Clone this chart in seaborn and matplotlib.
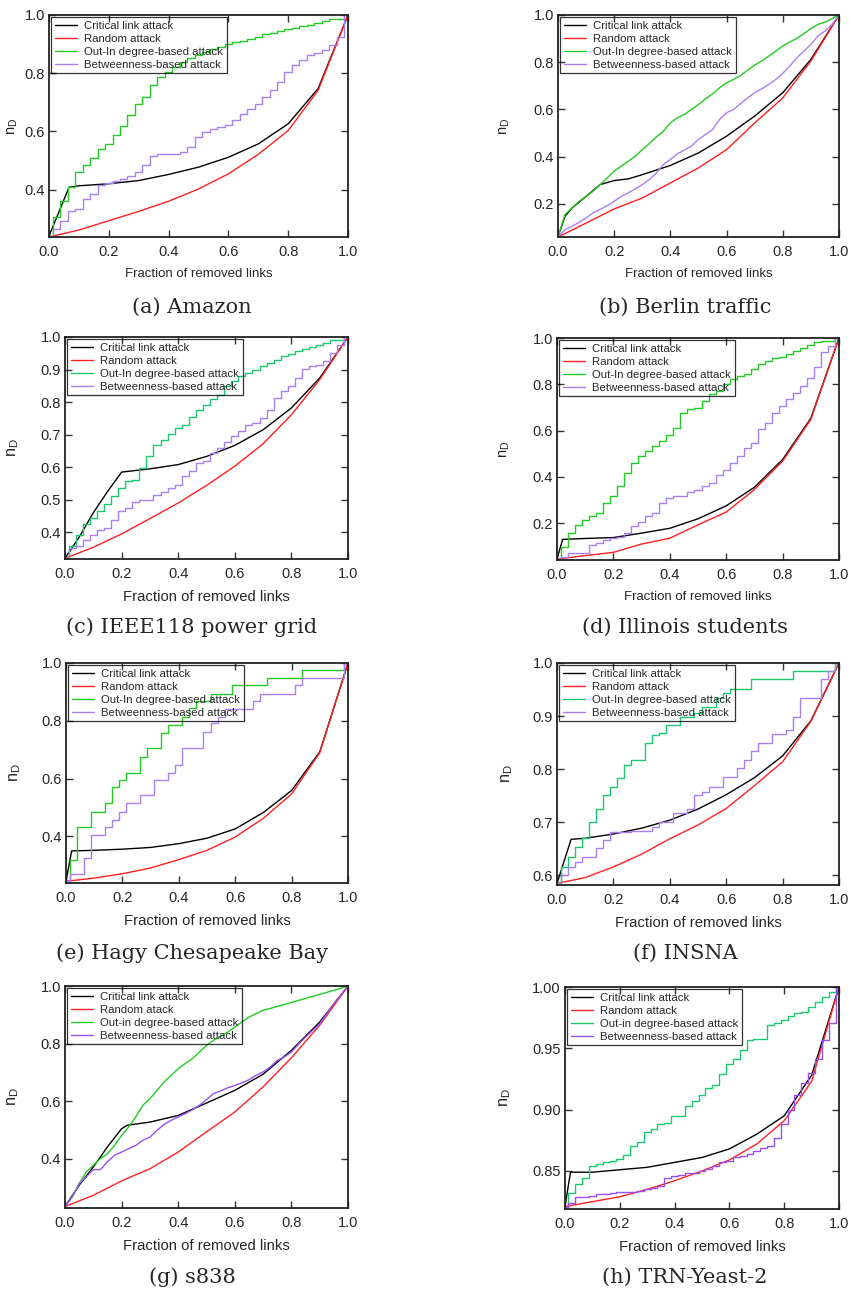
import numpy as np
import matplotlib
matplotlib.use('Agg')
import matplotlib.pyplot as plt
import seaborn as sns

# x grids: critical/random curves are sampled every 0.1, staircases every 0.025
frac_coarse = [0.0, 0.1, 0.2, 0.3, 0.4, 0.5, 0.6, 0.7, 0.8, 0.9, 1.0]
frac_fine = np.linspace(0.0, 1.0, 41)

# (a) Amazon
amazon_crit_x = [0, 0.067, 0.1, 0.2, 0.3, 0.4, 0.5, 0.6, 0.7, 0.8, 0.9, 1.0]
amazon_crit_y = [0.24, 0.408, 0.413, 0.42, 0.431, 0.452, 0.477, 0.511, 0.557, 0.626, 0.747, 1.0]
amazon_rand = [0.237, 0.261, 0.293, 0.325, 0.36, 0.402, 0.454, 0.521, 0.603, 0.741, 1.0]
amazon_outin = [0.24, 0.305, 0.362, 0.41, 0.46, 0.485, 0.51, 0.54, 0.557, 0.586, 0.62, 0.655, 0.695, 0.718,
                0.758, 0.787, 0.805, 0.822, 0.839, 0.851, 0.862, 0.874, 0.882, 0.891, 0.899, 0.906, 0.911,
                0.918, 0.925, 0.933, 0.939, 0.945, 0.951, 0.955, 0.962, 0.967, 0.971, 0.978, 0.987, 0.987, 1.0]
amazon_betw = [0.24, 0.264, 0.293, 0.328, 0.333, 0.368, 0.385, 0.417, 0.422, 0.431, 0.436, 0.448, 0.46, 0.483,
               0.517, 0.521, 0.521, 0.521, 0.529, 0.546, 0.58, 0.598, 0.609, 0.615, 0.621, 0.638, 0.661,
               0.678, 0.695, 0.718, 0.741, 0.77, 0.805, 0.828, 0.845, 0.862, 0.871, 0.879, 0.897, 0.925, 1.0]

# (b) Berlin traffic
berlin_crit_x = [0, 0.025, 0.05, 0.1, 0.15, 0.2, 0.25, 0.3, 0.4, 0.5, 0.6, 0.7, 0.8, 0.9, 1.0]
berlin_crit_y = [0.06, 0.148, 0.183, 0.232, 0.282, 0.299, 0.306, 0.324, 0.363, 0.416, 0.487, 0.572, 0.671, 0.812, 1.0]
berlin_rand = [0.06, 0.119, 0.179, 0.225, 0.289, 0.353, 0.43, 0.543, 0.649, 0.805, 1.0]
berlin_outin = [0.06, 0.155, 0.183, 0.211, 0.232, 0.254, 0.282, 0.31, 0.339, 0.36, 0.381, 0.402, 0.43, 0.456,
                0.484, 0.508, 0.543, 0.565, 0.579, 0.6, 0.621, 0.645, 0.666, 0.692, 0.713, 0.727, 0.744,
                0.767, 0.788, 0.805, 0.826, 0.847, 0.869, 0.886, 0.901, 0.921, 0.943, 0.96, 0.97, 0.984, 1.0]
berlin_betw = [0.06, 0.091, 0.105, 0.122, 0.141, 0.162, 0.176, 0.193, 0.211, 0.232, 0.247, 0.264, 0.282, 0.303,
               0.331, 0.367, 0.388, 0.413, 0.428, 0.445, 0.473, 0.494, 0.515, 0.558, 0.586, 0.6, 0.625,
               0.649, 0.671, 0.688, 0.706, 0.727, 0.753, 0.784, 0.819, 0.847, 0.876, 0.911, 0.932, 0.96, 1.0]

# (c) IEEE118 power grid
ieee_crit_x = [0, 0.05, 0.1, 0.15, 0.2, 0.3, 0.4, 0.5, 0.6, 0.7, 0.8, 0.9, 1.0]
ieee_crit_y = [0.32, 0.385, 0.46, 0.525, 0.585, 0.595, 0.608, 0.633, 0.667, 0.715, 0.782, 0.874, 1.0]
ieee_rand = [0.32, 0.354, 0.395, 0.442, 0.49, 0.544, 0.603, 0.672, 0.761, 0.869, 1.0]
ieee_outin = [0.32, 0.357, 0.393, 0.427, 0.444, 0.465, 0.487, 0.513, 0.536, 0.557, 0.562, 0.598, 0.633, 0.669,
              0.685, 0.703, 0.72, 0.731, 0.754, 0.777, 0.792, 0.81, 0.823, 0.848, 0.864, 0.881, 0.889,
              0.9, 0.91, 0.92, 0.93, 0.941, 0.948, 0.956, 0.963, 0.969, 0.976, 0.982, 0.99, 0.992, 1.0]
ieee_betw = [0.32, 0.352, 0.357, 0.377, 0.393, 0.406, 0.413, 0.439, 0.465, 0.475, 0.492, 0.5, 0.5, 0.516,
             0.523, 0.536, 0.546, 0.572, 0.587, 0.613, 0.62, 0.644, 0.659, 0.676, 0.695, 0.71, 0.731,
             0.736, 0.751, 0.777, 0.813, 0.833, 0.848, 0.874, 0.902, 0.91, 0.915, 0.925, 0.951, 0.976, 1.0]

# (d) Illinois students
illinois_crit_x = [0, 0.02, 0.1, 0.2, 0.3, 0.4, 0.5, 0.6, 0.7, 0.8, 0.9, 1.0]
illinois_crit_y = [0.045, 0.13, 0.134, 0.138, 0.157, 0.178, 0.219, 0.275, 0.355, 0.475, 0.653, 1.0]
illinois_rand = [0.045, 0.06, 0.074, 0.11, 0.135, 0.193, 0.248, 0.345, 0.468, 0.648, 1.0]
illinois_outin = [0.045, 0.099, 0.157, 0.193, 0.214, 0.229, 0.246, 0.287, 0.316, 0.359, 0.417, 0.46, 0.489,
                  0.511, 0.533, 0.554, 0.583, 0.612, 0.677, 0.692, 0.699, 0.728, 0.757, 0.771, 0.8, 0.822,
                  0.834, 0.844, 0.865, 0.887, 0.902, 0.912, 0.916, 0.931, 0.945, 0.955, 0.97, 0.981, 0.986,
                  0.986, 1.0]
illinois_betw = [0.045, 0.055, 0.07, 0.07, 0.073, 0.106, 0.116, 0.128, 0.135, 0.142, 0.157, 0.186, 0.207,
                 0.229, 0.246, 0.287, 0.309, 0.316, 0.316, 0.333, 0.345, 0.359, 0.374, 0.41, 0.431, 0.46,
                 0.492, 0.526, 0.547, 0.605, 0.634, 0.677, 0.706, 0.735, 0.764, 0.793, 0.829, 0.873, 0.938,
                 0.967, 1.0]

# (e) Hagy Chesapeake Bay
hagy_crit_x = [0, 0.02, 0.1, 0.2, 0.3, 0.4, 0.5, 0.6, 0.7, 0.8, 0.9, 1.0]
hagy_crit_y = [0.245, 0.35, 0.352, 0.356, 0.362, 0.375, 0.394, 0.426, 0.483, 0.559, 0.693, 1.0]
hagy_rand = [0.245, 0.256, 0.271, 0.291, 0.32, 0.352, 0.398, 0.463, 0.547, 0.69, 1.0]
hagy_outin = [0.245, 0.32, 0.432, 0.432, 0.486, 0.486, 0.515, 0.572, 0.595, 0.621, 0.621, 0.676, 0.705, 0.705,
              0.759, 0.787, 0.787, 0.814, 0.843, 0.868, 0.868, 0.894, 0.894, 0.894, 0.923, 0.923, 0.923,
              0.923, 0.923, 0.949, 0.949, 0.949, 0.949, 0.949, 0.977, 0.977, 0.977, 0.977, 0.977, 0.977, 1.0]
hagy_betw = [0.245, 0.27, 0.27, 0.325, 0.406, 0.406, 0.434, 0.457, 0.486, 0.515, 0.515, 0.544, 0.544, 0.595,
             0.595, 0.621, 0.647, 0.705, 0.705, 0.705, 0.76, 0.791, 0.814, 0.84, 0.84, 0.84, 0.84, 0.868,
             0.894, 0.894, 0.894, 0.894, 0.894, 0.923, 0.949, 0.949, 0.949, 0.949, 0.949, 0.949, 1.0]

# (f) INSNA
insna_crit_x = [0, 0.05, 0.1, 0.2, 0.3, 0.4, 0.5, 0.6, 0.7, 0.8, 0.9, 1.0]
insna_crit_y = [0.585, 0.668, 0.67, 0.678, 0.689, 0.704, 0.725, 0.752, 0.784, 0.825, 0.891, 1.0]
insna_rand = [0.585, 0.596, 0.616, 0.64, 0.669, 0.695, 0.726, 0.769, 0.814, 0.89, 1.0]
insna_outin = [0.585, 0.616, 0.635, 0.654, 0.67, 0.701, 0.726, 0.752, 0.767, 0.783, 0.808, 0.818, 0.818,
               0.849, 0.865, 0.868, 0.884, 0.884, 0.899, 0.899, 0.906, 0.918, 0.918, 0.934, 0.943, 0.951,
               0.951, 0.951, 0.969, 0.969, 0.969, 0.969, 0.969, 0.969, 0.984, 0.984, 0.984, 0.984, 0.984,
               0.984, 1.0]
insna_betw = [0.585, 0.6, 0.616, 0.626, 0.634, 0.634, 0.651, 0.667, 0.682, 0.682, 0.682, 0.684, 0.684, 0.684,
              0.692, 0.701, 0.701, 0.717, 0.717, 0.726, 0.752, 0.758, 0.767, 0.767, 0.785, 0.785, 0.802,
              0.818, 0.835, 0.85, 0.85, 0.866, 0.866, 0.874, 0.899, 0.934, 0.934, 0.934, 0.969, 0.984, 1.0]

# (g) s838
s838_crit_x = [0, 0.05, 0.1, 0.15, 0.2, 0.22, 0.3, 0.4, 0.5, 0.6, 0.7, 0.8, 0.9, 1.0]
s838_crit_y = [0.235, 0.309, 0.372, 0.442, 0.505, 0.517, 0.528, 0.551, 0.594, 0.638, 0.694, 0.777, 0.875, 1.0]
s838_rand = [0.235, 0.274, 0.324, 0.366, 0.424, 0.494, 0.563, 0.65, 0.751, 0.864, 1.0]
s838_outin = [0.235, 0.268, 0.314, 0.355, 0.378, 0.401, 0.418, 0.447, 0.482, 0.511, 0.546, 0.586, 0.609,
              0.638, 0.667, 0.69, 0.713, 0.731, 0.748, 0.771, 0.794, 0.812, 0.825, 0.84, 0.858, 0.875,
              0.892, 0.904, 0.916, 0.922, 0.929, 0.936, 0.943, 0.95, 0.957, 0.964, 0.971, 0.978, 0.985,
              0.992, 1.0]
s838_betw = [0.235, 0.268, 0.314, 0.338, 0.363, 0.363, 0.39, 0.413, 0.424, 0.436, 0.447, 0.465, 0.476, 0.499,
             0.52, 0.534, 0.546, 0.557, 0.571, 0.586, 0.606, 0.627, 0.636, 0.647, 0.655, 0.664, 0.675,
             0.69, 0.702, 0.719, 0.742, 0.754, 0.771, 0.798, 0.823, 0.846, 0.869, 0.904, 0.939, 0.968, 1.0]

# (h) TRN-Yeast-2
yeast_crit_x = [0, 0.02, 0.1, 0.2, 0.3, 0.4, 0.5, 0.6, 0.7, 0.8, 0.9, 1.0]
yeast_crit_y = [0.821, 0.849, 0.849, 0.851, 0.853, 0.857, 0.861, 0.868, 0.88, 0.895, 0.928, 1.0]
yeast_rand = [0.821, 0.825, 0.829, 0.835, 0.842, 0.85, 0.859, 0.872, 0.891, 0.923, 1.0]
yeast_outin = [0.821, 0.832, 0.839, 0.844, 0.854, 0.856, 0.857, 0.858, 0.86, 0.863, 0.87, 0.874, 0.882,
               0.884, 0.888, 0.889, 0.895, 0.895, 0.903, 0.907, 0.912, 0.918, 0.92, 0.929, 0.937, 0.941,
               0.949, 0.957, 0.958, 0.958, 0.969, 0.971, 0.973, 0.976, 0.979, 0.98, 0.984, 0.988, 0.992,
               0.996, 1.0]
yeast_betw = [0.821, 0.824, 0.829, 0.829, 0.83, 0.831, 0.831, 0.832, 0.833, 0.833, 0.833, 0.834, 0.835,
              0.836, 0.838, 0.844, 0.846, 0.847, 0.848, 0.848, 0.85, 0.852, 0.854, 0.857, 0.858, 0.861,
              0.862, 0.864, 0.866, 0.869, 0.87, 0.877, 0.888, 0.9, 0.912, 0.922, 0.93, 0.941, 0.957,
              0.971, 1.0]

captions = ['(a) Amazon', '(b) Berlin traffic', '(c) IEEE118 power grid', '(d) Illinois students',
            '(e) Hagy Chesapeake Bay', '(f) INSNA', '(g) s838', '(h) TRN-Yeast-2']

RED = '#ff2020'
GREEN = '#22cc22'
TEAL = '#1bc96e'
LAVENDER = '#a97ff2'
PURPLE = '#9650f2'

W, H = 851, 1292

sns.set_style('ticks')
plt.rcParams['font.family'] = ['Liberation Sans', 'DejaVu Sans']
plt.rcParams['mathtext.fontset'] = 'custom'
plt.rcParams['mathtext.rm'] = 'Liberation Sans'

fig = plt.figure(figsize=(W / 100, H / 100), dpi=100)


def add_panel(box, ylim, yticks, data, colors, fs, ylab_x, steps=True,
              outin_label='Out-In degree-based attack', rand_label='Random attack', fmt='%.1f'):
    left, right, top, bottom = box
    w, h = right - left, bottom - top
    ax = fig.add_axes([left / W, 1 - bottom / H, w / W, h / H])
    crit_x, crit_y, rand_y, outin_y, betw_y = data
    ds = 'steps-mid' if steps else 'default'
    sns.lineplot(x=crit_x, y=crit_y, ax=ax, color='black', lw=1.0, label='Critical link attack')
    sns.lineplot(x=frac_coarse, y=rand_y, ax=ax, color=RED, lw=1.0, label=rand_label)
    sns.lineplot(x=frac_fine, y=outin_y, ax=ax, color=colors[0], lw=1.0, label=outin_label, drawstyle=ds)
    sns.lineplot(x=frac_fine, y=betw_y, ax=ax, color=colors[1], lw=1.0, label='Betweenness-based attack',
                 drawstyle=ds)
    ax.set_xlim(0, 1)
    ax.set_ylim(*ylim)
    xt = [0, 0.2, 0.4, 0.6, 0.8, 1.0]
    ax.set_xticks(xt)
    ax.set_yticks(yticks)
    ax.set_xticklabels(['%.1f' % v for v in xt])
    ax.set_yticklabels([fmt % v for v in yticks])
    ax.tick_params(direction='in', top=True, right=True, length=5, width=1, labelsize=10.5, color='#333333')
    ax.tick_params(axis='x', pad=6)
    ax.tick_params(axis='y', pad=3)
    for sp in ax.spines.values():
        sp.set_linewidth(1.3)
        sp.set_color('#222222')
    ax.set_xlabel('Fraction of removed links', fontsize=fs)
    ax.xaxis.set_label_coords(0.5, -31 / h)
    ax.set_ylabel('n$_{\\rm D}$', fontsize=fs + 1)
    ax.yaxis.label.set_verticalalignment('center')
    ax.yaxis.set_label_coords((ylab_x - left) / w, 0.5)
    leg = ax.legend(loc='upper left', fontsize=8.2, frameon=True, fancybox=False, borderaxespad=0.2,
                    borderpad=0.3, labelspacing=0.26, handlelength=2.0, handletextpad=0.6)
    leg.get_frame().set_edgecolor('black')
    leg.get_frame().set_facecolor('none')
    leg.get_frame().set_linewidth(0.9)
    return ax


add_panel((49, 348, 15, 237), (0.237, 1.0), [0.4, 0.6, 0.8, 1.0],
          (amazon_crit_x, amazon_crit_y, amazon_rand, amazon_outin, amazon_betw), (GREEN, LAVENDER), 9.5, 13)
add_panel((558, 839, 15, 237), (0.06, 1.0), [0.2, 0.4, 0.6, 0.8, 1.0],
          (berlin_crit_x, berlin_crit_y, berlin_rand, berlin_outin, berlin_betw), (GREEN, LAVENDER), 9.5, 505,
          steps=False)
add_panel((65, 348, 337, 559), (0.318, 1.0), [0.4, 0.5, 0.6, 0.7, 0.8, 0.9, 1.0],
          (ieee_crit_x, ieee_crit_y, ieee_rand, ieee_outin, ieee_betw), (TEAL, LAVENDER), 10.7, 13)
add_panel((557, 839, 338, 560), (0.041, 1.0), [0.2, 0.4, 0.6, 0.8, 1.0],
          (illinois_crit_x, illinois_crit_y, illinois_rand, illinois_outin, illinois_betw), (GREEN, LAVENDER),
          9.5, 505)
add_panel((66, 348, 663, 883), (0.239, 1.0), [0.4, 0.6, 0.8, 1.0],
          (hagy_crit_x, hagy_crit_y, hagy_rand, hagy_outin, hagy_betw), (GREEN, LAVENDER), 10.7, 15)
add_panel((557, 839, 663, 885), (0.582, 1.0), [0.6, 0.7, 0.8, 0.9, 1.0],
          (insna_crit_x, insna_crit_y, insna_rand, insna_outin, insna_betw), (TEAL, LAVENDER), 10.7, 507)
add_panel((65, 348, 986, 1208), (0.23, 1.0), [0.4, 0.6, 0.8, 1.0],
          (s838_crit_x, s838_crit_y, s838_rand, s838_outin, s838_betw), (GREEN, PURPLE), 10.7, 13,
          steps=False, outin_label='Out-in degree-based attack', rand_label='Random atack')
add_panel((565, 839, 987, 1209), (0.819, 1.0), [0.85, 0.90, 0.95, 1.00],
          (yeast_crit_x, yeast_crit_y, yeast_rand, yeast_outin, yeast_betw), (TEAL, PURPLE), 10.7, 505,
          outin_label='Out-in degree-based attack', fmt='%.2f')

# serif captions under each panel
cap_pos = [(192, 307), (685, 307), (192, 627), (685, 627), (192, 953), (685, 953), (192, 1277), (685, 1277)]
for text, (cx, cy) in zip(captions, cap_pos):
    fig.text(cx / W, 1 - cy / H, text, ha='center', va='center', fontsize=15, family='DejaVu Serif')

fig.savefig('out.png', dpi=100)
